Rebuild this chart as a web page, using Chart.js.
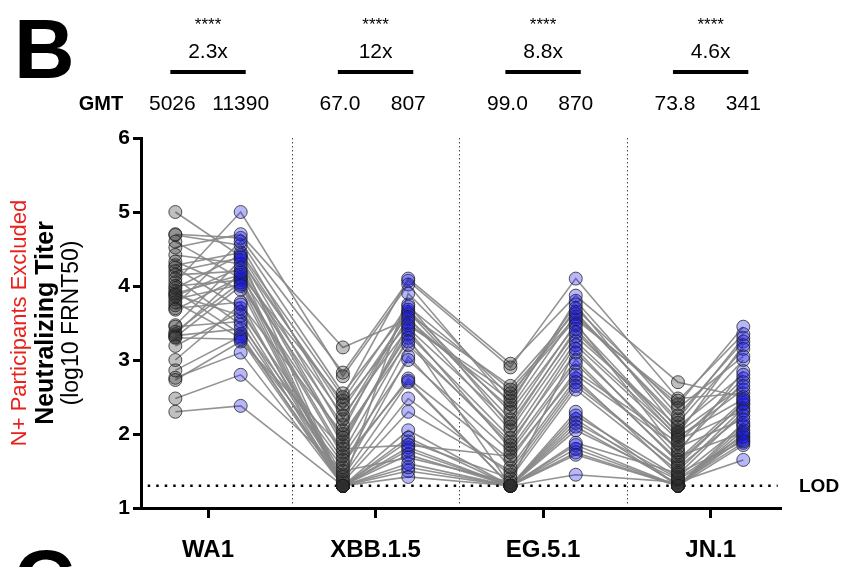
<!DOCTYPE html>
<html>
<head>
<meta charset="utf-8">
<title>Neutralizing titers - N+ participants excluded</title>
<script src="https://cdn.jsdelivr.net/npm/chart.js@4.4.1/dist/chart.umd.min.js"></script>
<style>
    html, body { margin: 0; padding: 0; background: #fff; }
    #titerChart { display: block; }
</style>
</head>
<body>
<canvas id="titerChart" width="847" height="567"></canvas>
<script>
// ==== DATA ====
const categories = ['WA1', 'XBB.1.5', 'EG.5.1', 'JN.1'];
const foldLabels = ['2.3x', '12x', '8.8x', '4.6x'];
const starLabels = ['****', '****', '****', '****'];
const gmtPre = ['5026', '67.0', '99.0', '73.8'];
const gmtPost = ['11390', '807', '870', '341'];
const yTicks = [1, 2, 3, 4, 5, 6];
const lodValue = 1.3;

// one value per participant (same index = same participant across columns)
const wa1Pre  = [5.0, 4.7, 4.69, 4.6, 4.52, 4.42, 4.33, 4.28, 4.25, 4.2, 4.15, 4.1, 4.05, 4.0, 3.97, 3.93, 3.9, 3.88, 3.86, 3.82,
                 3.78, 3.74, 3.7, 3.68, 3.47, 3.45, 3.38, 3.35, 3.33, 3.31, 3.3, 3.19, 3.0, 2.86, 2.76, 2.73, 2.48, 2.3];
const wa1Post = [4.4, 4.65, 4.55, 4.1, 4.7, 4.3, 3.95, 4.45, 3.7, 4.38, 4.2, 3.48, 5.0, 4.08, 4.42, 3.35, 4.15, 3.6, 4.25, 4.02,
                 3.3, 4.6, 3.78, 4.12, 4.35, 3.52, 4.05, 4.18, 3.42, 4.0, 3.28, 3.65, 3.75, 3.32, 3.1, 3.25, 2.8, 2.38];
const xbbPre  = [1.3, 2.83, 2.2, 1.3, 3.17, 1.9, 1.3, 2.5, 1.45, 2.05, 1.3, 1.6, 2.78, 1.75, 2.33, 1.3, 2.45, 1.38, 1.85, 1.3,
                 1.55, 2.55, 1.3, 2.12, 2.4, 1.3, 1.7, 2.25, 1.42, 1.95, 1.3, 1.65, 2.0, 1.35, 1.3, 1.8, 1.5, 1.3];
const xbbPost = [3.9, 4.07, 3.65, 1.5, 3.55, 3.4, 1.82, 4.1, 3.05, 3.72, 2.05, 2.75, 4.02, 3.3, 3.62, 1.42, 3.75, 2.48, 3.47, 1.72,
                 3.2, 3.68, 1.95, 3.58, 3.5, 1.6, 3.0, 3.43, 2.7, 3.35, 1.9, 2.72, 3.25, 2.3, 1.78, 1.85, 1.68, 1.55];
const egPre   = [2.5, 2.9, 2.2, 1.3, 2.35, 1.8, 1.3, 2.95, 1.55, 2.6, 1.3, 1.65, 2.4, 1.3, 2.65, 1.3, 2.1, 1.45, 2.55, 1.3,
                 1.9, 2.3, 1.3, 2.05, 2.45, 1.3, 1.75, 2.15, 1.3, 1.95, 1.4, 1.3, 1.85, 1.5, 1.3, 1.7, 1.35, 1.3];
const egPost  = [3.75, 4.1, 3.5, 2.2, 3.62, 3.0, 1.85, 3.87, 2.75, 3.58, 2.1, 2.85, 3.8, 2.3, 3.65, 1.45, 3.42, 2.65, 3.55, 1.75,
                 3.1, 3.47, 2.05, 3.32, 3.7, 1.72, 2.95, 3.38, 2.25, 3.25, 2.6, 1.8, 3.2, 2.7, 2.15, 2.8, 3.15, 1.88];
const jnPre   = [2.05, 2.48, 1.75, 1.3, 2.2, 1.62, 1.3, 2.7, 1.45, 2.4, 1.33, 1.88, 2.25, 1.3, 2.15, 1.35, 1.95, 1.58, 2.45, 1.3,
                 1.78, 2.0, 1.38, 2.1, 2.35, 1.3, 1.65, 2.02, 1.42, 1.97, 1.5, 1.3, 1.92, 1.55, 1.4, 1.82, 1.7, 1.47];
const jnPost  = [3.0, 2.55, 2.85, 1.95, 3.3, 2.4, 2.1, 2.5, 2.3, 3.45, 1.88, 2.75, 3.25, 2.05, 3.15, 1.65, 2.6, 2.42, 3.35, 2.0,
                 2.7, 3.2, 1.92, 2.8, 3.05, 2.15, 2.45, 2.65, 2.12, 2.47, 2.35, 1.85, 2.32, 2.25, 1.97, 2.2, 2.02, 1.9];

const columns = [wa1Pre, wa1Post, xbbPre, xbbPost, egPre, egPost, jnPre, jnPost];

// ==== STYLE ====
const FONT = "'Liberation Sans', Arial, Helvetica, sans-serif";
const PAIR_OFFSET = 0.195;
const PRE_FILL = 'rgba(45, 45, 45, 0.3)';
const POST_FILL = 'rgba(20, 20, 235, 0.3)';

Chart.defaults.font.family = FONT;
Chart.defaults.color = '#000';

function columnX(c) {
    const center = Math.floor(c / 2);
    return c % 2 === 0 ? center - PAIR_OFFSET : center + PAIR_OFFSET;
}

// ==== DATASETS ====
function buildDatasets() {
    const sets = [];

    // points (drawn on top)
    columns.forEach((col, c) => {
        const isPost = c % 2 === 1;
        sets.push({
            type: 'scatter',
            data: col.map(v => ({ x: columnX(c), y: v })),
            pointRadius: 6.5,
            pointBackgroundColor: isPost ? POST_FILL : PRE_FILL,
            pointBorderColor: 'rgba(30, 30, 30, 0.75)',
            pointBorderWidth: 1,
            order: 0
        });
    });

    // LOD dotted line
    sets.push({
        type: 'line',
        data: [{ x: -0.36, y: lodValue }, { x: 3.4, y: lodValue }],
        borderColor: '#000',
        borderWidth: 2.5,
        borderDash: [2.5, 6],
        pointRadius: 0,
        order: 1
    });

    // one line per participant
    for (let i = 0; i < wa1Pre.length; i++) {
        sets.push({
            type: 'line',
            data: columns.map((col, c) => ({ x: columnX(c), y: col[i] })),
            borderColor: 'rgba(135, 135, 135, 0.9)',
            borderWidth: 1.6,
            pointRadius: 0,
            tension: 0,
            order: 2
        });
    }
    return sets;
}

// ==== DECORATIONS ====
const separatorPlugin = {
    id: 'separators',
    beforeDatasetsDraw(chart) {
        const { ctx, scales: { x, y } } = chart;
        ctx.save();
        ctx.strokeStyle = '#444';
        ctx.lineWidth = 1;
        ctx.setLineDash([1.5, 2.5]);
        [0.5, 1.5, 2.5].forEach(v => {
            const px = Math.round(x.getPixelForValue(v)) + 0.5;
            ctx.beginPath();
            ctx.moveTo(px, y.getPixelForValue(6));
            ctx.lineTo(px, y.getPixelForValue(1) - 4);
            ctx.stroke();
        });
        ctx.restore();
    }
};

const labelsPlugin = {
    id: 'labels',
    afterDraw(chart) {
        const { ctx, scales: { x, y } } = chart;
        ctx.save();
        ctx.fillStyle = '#000';
        ctx.textBaseline = 'alphabetic';

        // panel letters
        ctx.textAlign = 'left';
        ctx.font = 'bold 84px ' + FONT;
        ctx.fillText('B', 14, 78);
        ctx.fillText('C', 14, 608);

        // stars, fold change, bars, GMT values
        ctx.textAlign = 'center';
        categories.forEach((cat, i) => {
            const cx = x.getPixelForValue(i);
            ctx.font = '17px ' + FONT;
            ctx.fillText(starLabels[i], cx, 30);
            ctx.font = '21px ' + FONT;
            ctx.fillText(foldLabels[i], cx, 58);
            const left = x.getPixelForValue(i - 0.225);
            ctx.fillRect(left, 70, x.getPixelForValue(i + 0.225) - left, 4);
            ctx.font = '21px ' + FONT;
            ctx.fillText(gmtPre[i], x.getPixelForValue(i - PAIR_OFFSET) - 3, 110);
            ctx.fillText(gmtPost[i], x.getPixelForValue(i + PAIR_OFFSET), 110);
        });
        ctx.font = 'bold 20px ' + FONT;
        ctx.fillText('GMT', 101, 110);

        // LOD label
        ctx.textAlign = 'left';
        ctx.textBaseline = 'middle';
        ctx.font = 'bold 19px ' + FONT;
        ctx.fillText('LOD', 799, y.getPixelForValue(lodValue) + 1);

        // rotated y title (3 lines)
        const midY = y.getPixelForValue(3.5);
        const titleLines = [
            { text: 'N+ Participants Excluded', font: '22px ' + FONT, color: '#e8211c', x: 20 },
            { text: 'Neutralizing Titer', font: 'bold 25px ' + FONT, color: '#000', x: 46 },
            { text: '(log10 FRNT50)', font: '23px ' + FONT, color: '#000', x: 72 }
        ];
        titleLines.forEach(line => {
            ctx.save();
            ctx.translate(line.x, midY);
            ctx.rotate(-Math.PI / 2);
            ctx.textAlign = 'center';
            ctx.textBaseline = 'middle';
            ctx.font = line.font;
            ctx.fillStyle = line.color;
            ctx.fillText(line.text, 0, 0);
            ctx.restore();
        });
        ctx.restore();
    }
};

// ==== CHART ====
function initChart() {
    const canvas = document.getElementById('titerChart');
    new Chart(canvas, {
        data: { datasets: buildDatasets() },
        options: {
            responsive: false,
            animation: false,
            events: [],
            layout: { padding: { left: 100, right: 66, top: 138, bottom: 0 } },
            plugins: {
                legend: { display: false },
                tooltip: { enabled: false }
            },
            scales: {
                x: {
                    type: 'linear',
                    min: -0.4,
                    max: 3.42,
                    afterBuildTicks(scale) {
                        scale.ticks = categories.map((c, i) => ({ value: i }));
                    },
                    afterFit(scale) { scale.height = 59; },
                    border: { display: true, width: 3, color: '#000' },
                    grid: { display: true, drawOnChartArea: false, drawTicks: true, tickLength: 10, tickWidth: 3, color: '#000', tickColor: '#000' },
                    ticks: {
                        autoSkip: false,
                        maxRotation: 0,
                        padding: 18,
                        font: { size: 24, weight: 'bold' },
                        color: '#000',
                        callback: value => categories[value]
                    }
                },
                y: {
                    type: 'linear',
                    min: 1,
                    max: 6,
                    afterBuildTicks(scale) {
                        scale.ticks = yTicks.map(v => ({ value: v }));
                    },
                    afterFit(scale) { scale.width = 41; },
                    border: { display: true, width: 3, color: '#000' },
                    grid: { display: true, drawOnChartArea: false, drawTicks: true, tickLength: 8, tickWidth: 3, color: '#000', tickColor: '#000' },
                    ticks: {
                        padding: 3,
                        font: { size: 21, weight: 'bold' },
                        color: '#000'
                    }
                }
            }
        },
        plugins: [separatorPlugin, labelsPlugin]
    });
}

document.addEventListener('DOMContentLoaded', initChart);
</script>
</body>
</html>
